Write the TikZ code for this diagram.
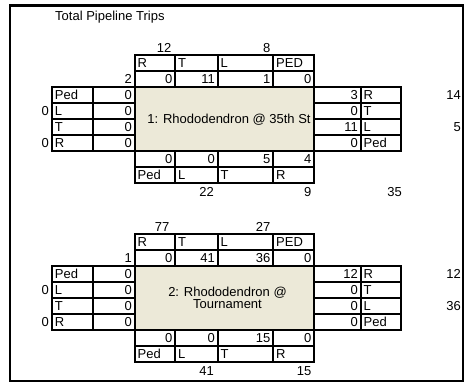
\documentclass[tikz,border=0pt]{standalone}
\usepackage{fontspec}
\setmainfont{Liberation Sans}
\definecolor{boxfill}{RGB}{236,233,216}

\begin{document}
\begin{tikzpicture}[x=1pt,y=-1pt,
  grid/.style={line width=2pt},
  cell/.style={inner sep=0pt,text height=9.3pt,text depth=0pt,font=\fontsize{13}{12}\selectfont},
  lab/.style={cell,anchor=west},
  num/.style={cell,anchor=east}]
\useasboundingbox (0,0) rectangle (465,383);
\draw[line width=2.5pt] (10,5.5) rectangle (463,381);
\node[lab] (title) at (55,15.5) {Total Pipeline Trips};

% grid and movement labels of both intersections
\foreach \dy [count=\n] in {0,179}{
  \begin{scope}[shift={(0,\dy)}]
    \fill[boxfill] (134.5,87) rectangle (314,151);
    \draw[grid] (134.5,54.5) rectangle (314,183);
    \foreach \y in {70.8,87,151,167}
      \draw[grid] (134.5,\y) -- (314,\y);
    \foreach \x in {175,217.5,273}{
      \draw[grid] (\x,54.5) -- (\x,87);
      \draw[grid] (\x,151) -- (\x,183);
    }
    \draw[grid] (51.7,87) rectangle (134.5,151);
    \draw[grid] (314,87) rectangle (401,151);
    \foreach \y in {103,119,135}{
      \draw[grid] (51.7,\y) -- (134.5,\y);
      \draw[grid] (314,\y) -- (401,\y);
    }
    \draw[grid] (92.5,87) -- (92.5,151);
    \draw[grid] (360.5,87) -- (360.5,151);
    \foreach \t/\x [count=\i] in {R/137.5,T/178,L/220.5,PED/276}
      \node[lab] (n\n-tl\i) at (\x,62.6) {\t};
    \foreach \t/\x [count=\i] in {Ped/137.5,L/178,T/220.5,R/276}
      \node[lab] (n\n-bl\i) at (\x,175) {\t};
    \foreach \t/\y [count=\i] in {Ped/95,L/111,T/127,R/143}
      \node[lab] (n\n-ll\i) at (54.7,\y) {\t};
    \foreach \t/\y [count=\i] in {R/95,T/111,L/127,Ped/143}
      \node[lab] (n\n-rl\i) at (363.5,\y) {\t};
  \end{scope}
}

% 1: Rhododendron @ 35th St
\node[cell] (i1) at (229,119) {1: Rhododendron @ 35th St};
\node[num] (i1-n) at (171.5,48) {12};
\node[num] (i1-s) at (270.5,48) {8};
\node[num] (i1-w) at (132,78.9) {2};
\foreach \v/\x [count=\i] in {0/172.5,11/215,1/270.5,0/311.5}
  \node[num] (i1-tv\i) at (\x,78.9) {\v};
\foreach \v/\x [count=\i] in {0/172.5,0/215,5/270.5,4/311.5}
  \node[num] (i1-bv\i) at (\x,159) {\v};
\foreach \v/\y [count=\i] in {0/95,0/111,0/127,0/143}
  \node[num] (i1-lv\i) at (132,\y) {\v};
\foreach \v/\y [count=\i] in {3/95,0/111,11/127,0/143}
  \node[num] (i1-rv\i) at (358,\y) {\v};
\node[num] (i1-lo1) at (49,111) {0};
\node[num] (i1-lo2) at (49,143) {0};
\node[num] (i1-ro1) at (461,95) {14};
\node[num] (i1-ro2) at (461,127) {5};
\node[num] (i1-bo1) at (214,191.5) {22};
\node[num] (i1-bo2) at (311.5,191.5) {9};
\node[num] (i1-tot) at (402,191.5) {35};

% 2: Rhododendron @ Tournament
\begin{scope}[shift={(0,179)}]
\node[cell,align=center,text height=,text depth=] (i2) at (227.5,119) {2: Rhododendron @\\Tournament};
\node[num] (i2-n) at (169.5,48) {77};
\node[num] (i2-s) at (270.5,48) {27};
\node[num] (i2-w) at (132,78.9) {1};
\foreach \v/\x [count=\i] in {0/172.5,41/215,36/270.5,0/311.5}
  \node[num] (i2-tv\i) at (\x,78.9) {\v};
\foreach \v/\x [count=\i] in {0/172.5,0/215,15/270.5,0/311.5}
  \node[num] (i2-bv\i) at (\x,159) {\v};
\foreach \v/\y [count=\i] in {0/95,0/111,0/127,0/143}
  \node[num] (i2-lv\i) at (132,\y) {\v};
\foreach \v/\y [count=\i] in {12/95,0/111,0/127,0/143}
  \node[num] (i2-rv\i) at (358,\y) {\v};
\node[num] (i2-lo1) at (49,111) {0};
\node[num] (i2-lo2) at (49,143) {0};
\node[num] (i2-ro1) at (461,95) {12};
\node[num] (i2-ro2) at (461,127) {36};
\node[num] (i2-bo1) at (214,191.5) {41};
\node[num] (i2-bo2) at (311.5,191.5) {15};
\end{scope}
\end{tikzpicture}
\end{document}
